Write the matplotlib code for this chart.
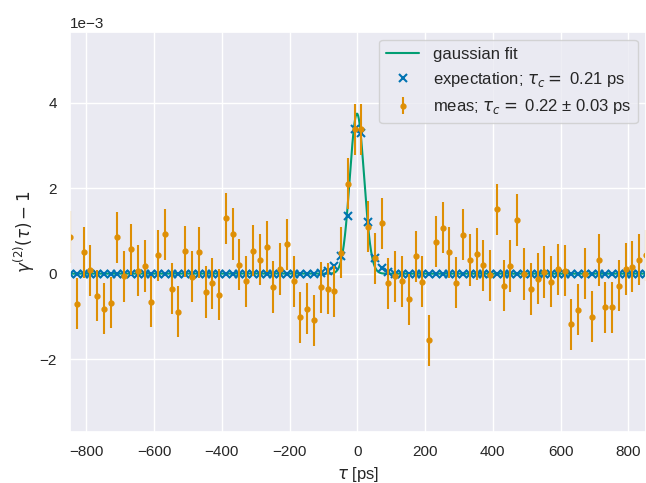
import numpy as np
import matplotlib
matplotlib.use("Agg")
import matplotlib.pyplot as plt
import seaborn as sns

# ---- data (values in units of 1e-3) ----
tau = np.arange(-848, 853, 20)  # bin centres [ps]

meas = [0.86, -0.70, 0.50, 0.08, -0.52, -0.82, -0.68, 0.85, -0.06, 0.57,
        0.07, 0.18, -0.66, 0.43, 0.92, -0.35, -0.89, 0.52, -0.07, 0.50,
        -0.43, -0.23, -0.49, 1.30, 0.93, 0.21, -0.18, 0.54, 0.33, 0.63,
        -0.31, 0.11, 0.69, -0.18, -1.02, -0.82, -1.09, -0.32, -0.35, -0.41,
        0.49, 2.11, 3.38, 3.38, 1.10, 0.36, 1.18, -0.23, -0.06, -0.18,
        -0.60, 0.41, -0.19, -1.56, 0.75, 1.08, 0.50, -0.21, 0.91, 0.32,
        0.46, 0.20, -0.04, 1.51, -0.28, 0.18, 1.26, -0.01, -0.36, -0.12,
        0.04, -0.19, 0.10, 0.07, -1.19, -0.84, 0.00, -1.01, 0.32, -0.79,
        -0.79, -0.28, 0.11, 0.16, 0.33, 0.43]
meas_err = 0.60

expect = [0.0] * 37 + [0.02, 0.07, 0.17, 0.42, 1.35, 3.40, 3.30, 1.20, 0.36,
                       0.13, 0.05] + [0.0] * 38

# gaussian fit parameters
fit_amp = 3.75   # 1e-3
fit_mu = -1.0    # ps
fit_sigma = 21.0 # ps

tau_c_exp = 0.21
tau_c_meas = 0.22
tau_c_meas_err = 0.03

# ---- style ----
sns.set_theme(style="darkgrid", palette="colorblind")
plt.rcParams['font.family'] = ['Liberation Sans', 'DejaVu Sans']
pal = sns.color_palette("colorblind")

fig = plt.figure(figsize=(6.46, 4.83), dpi=100)
ax = fig.add_axes([70/646, 51/483, 576/646, 400.3/483])

tt = np.linspace(tau.min(), tau.max(), 2000)
fit = fit_amp * np.exp(-(tt - fit_mu)**2 / (2 * fit_sigma**2))
ax.plot(tt, fit * 1e-3, color=pal[2], label="gaussian fit")
ax.plot(tau, np.array(expect) * 1e-3, 'x', color=pal[0], mew=1.5,
        label=f"expectation; $\\tau_c = $ {tau_c_exp:.2f} ps")
ax.errorbar(tau, np.array(meas) * 1e-3, yerr=meas_err * 1e-3, fmt='.',
            color=pal[1], ms=7,
            label=f"meas; $\\tau_c = $ {tau_c_meas:.2f} ± {tau_c_meas_err:.2f} ps")

ax.set_xlim(tau.min(), tau.max())
ax.set_ylim(-3.71e-3, 5.67e-3)
ax.ticklabel_format(axis='y', style='sci', scilimits=(0, 0))
ax.tick_params(length=6, pad=3.5)
ax.set_xlabel(r"$\tau$ [ps]")
ax.set_ylabel(r"$\gamma^{(2)}(\tau) - 1$", labelpad=1.5)
ax.legend(loc="upper right", fontsize=12)

fig.savefig("out.png", dpi=100)
